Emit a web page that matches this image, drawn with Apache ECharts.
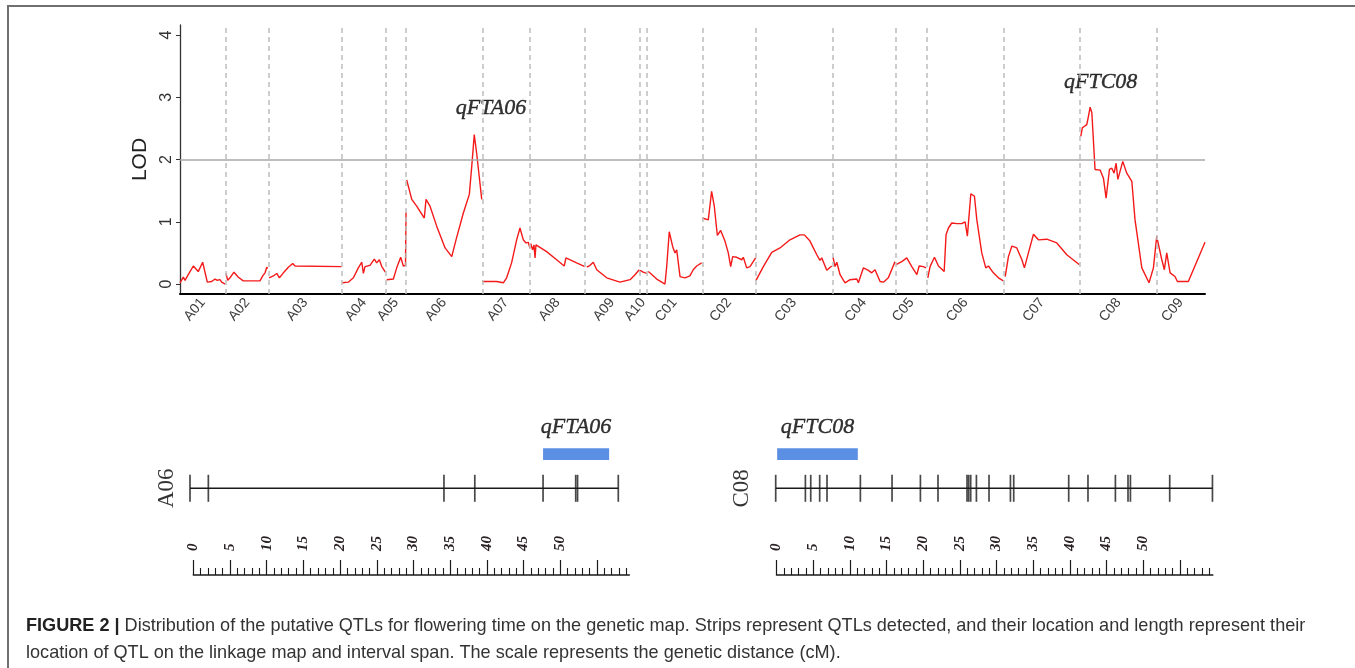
<!DOCTYPE html>
<html><head><meta charset="utf-8">
<script src="https://cdn.jsdelivr.net/npm/echarts@6/dist/echarts.min.js"></script>
<style>html,body{margin:0;padding:0;background:#fff}#c{width:1355px;height:668px}</style>
</head><body><div id="c"></div>
<script>
// ---------- DATA ----------
const chromNames = ['A01','A02','A03','A04','A05','A06','A07','A08','A09','A10','C01','C02','C03','C04','C05','C06','C07','C08','C09'];
const chromLengths = [34.3,32.3,55.0,33.0,15.0,57.2,35.8,41.3,40.7,5.8,41.5,40.1,57.5,47.6,23.5,57.8,57.0,57.5,36.2];
// LOD profiles: [position within chromosome (cM), LOD]
const lodA01 = [[0,0.02],[2.5,0.11],[3.8,0.06],[6.2,0.15],[10,0.29],[13.7,0.2],[17,0.35],[20.5,0.03],[23.8,0.04],[26.3,0.08],[28,0.06],[30,0.07],[31.3,0.03],[33.8,0.0]];
const lodA02 = [[0.2,0.17],[1.5,0.06],[3.2,0.1],[6.2,0.19],[9.5,0.11],[13.2,0.05],[25.7,0.05],[27.8,0.13],[29.5,0.18],[30.8,0.27],[31.5,0.25]];
const lodA03 = [[0.2,0.1],[3.5,0.13],[6,0.17],[8,0.1],[11,0.18],[14.7,0.27],[18,0.33],[19.7,0.29],[54.6,0.28]];
const lodA04 = [[0.2,0.02],[4.7,0.03],[8.5,0.1],[12.2,0.26],[14.8,0.35],[16,0.17],[17.2,0.28],[21,0.3],[24.2,0.4],[26,0.34],[28,0.39],[29.8,0.28],[32.5,0.19]];
const lodA05 = [[0.5,0.07],[5.5,0.08],[8,0.26],[11,0.43],[13,0.29],[14.6,0.3],[15,1.15]];
const lodA06 = [[0.5,1.67],[4.3,1.36],[8,1.25],[13.7,1.06],[15,1.36],[18,1.25],[23,0.93],[29.3,0.58],[34.3,0.44],[37.5,0.71],[43,1.14],[47.5,1.44],[49.3,1.89],[51.2,2.4],[53,2.1],[56.8,1.36]];
const lodA07 = [[0,0.04],[10.8,0.04],[15.8,0.02],[18.3,0.1],[22,0.34],[25.8,0.71],[28.3,0.9],[30.8,0.71],[32.8,0.66],[34.5,0.67],[35.8,0.58]];
const lodA08 = [[0.5,0.65],[2,0.55],[3,0.63],[3.8,0.42],[4.5,0.63],[12.5,0.52],[20,0.39],[25.7,0.29],[27,0.42],[35,0.34],[41.2,0.28]];
const lodA09 = [[1.3,0.27],[3.2,0.29],[6.2,0.35],[8.8,0.23],[16.3,0.1],[26.2,0.03],[33.8,0.07],[37.5,0.15],[40.7,0.23]];
const lodA10 = [[0.5,0.22],[3,0.19],[5.5,0.17]];
const lodC01 = [[1,0.2],[2.2,0.22],[3.8,0.15],[7.3,0.08],[13.5,0.0],[14.8,0.28],[16.7,0.84],[19.3,0.6],[21,0.5],[22.3,0.55],[24.8,0.12],[28.5,0.1],[32.2,0.13],[34.7,0.23],[37.3,0.29],[41,0.34]];
const lodC02 = [[0,1.06],[4.5,1.03],[7,1.49],[9,1.25],[11.3,0.78],[13.8,0.86],[17,0.69],[19.5,0.5],[21.3,0.28],[22.8,0.44],[25.8,0.43],[29.6,0.39],[30.8,0.43],[33.3,0.26],[35.8,0.28],[40,0.42]];
const lodC03 = [[0.2,0.06],[5.7,0.28],[12,0.51],[18.2,0.58],[25.7,0.71],[33.2,0.79],[36.5,0.79],[40.7,0.69],[45.8,0.47],[48.2,0.38],[49.5,0.42],[53.3,0.22],[57,0.29]];
const lodC04 = [[0.5,0.43],[2,0.28],[3.3,0.35],[5.8,0.15],[9.5,0.02],[13.3,0.07],[18.3,0.08],[19.5,0.02],[23.3,0.26],[27,0.22],[29.5,0.18],[32,0.23],[35.8,0.04],[38.3,0.03],[42,0.1],[47,0.36]];
const lodC05 = [[0.2,0.31],[4.5,0.36],[8.2,0.42],[12,0.28],[15.8,0.15],[17.5,0.29],[20.7,0.28],[22.7,0.26]];
const lodC06 = [[0.5,0.1],[2.2,0.28],[5.5,0.43],[8.5,0.29],[12.8,0.2],[14.2,0.79],[16,0.9],[18.5,0.98],[22.3,0.97],[26,0.97],[28.5,1.0],[30.2,0.77],[32.8,1.45],[35.5,1.41],[37.3,1.03],[41,0.5],[44,0.26],[46,0.29],[49.7,0.18],[53.5,0.1],[57.2,0.05]];
const lodC07 = [[0.8,0.12],[3.2,0.44],[5.8,0.61],[9.5,0.58],[13.3,0.39],[15.2,0.26],[18.2,0.5],[22,0.8],[25.7,0.71],[32,0.72],[39.5,0.66],[47,0.47],[56.5,0.31]];
const lodC08 = [[0.5,2.37],[1.7,2.51],[3.2,2.48],[5,2.56],[6.2,2.69],[7.5,2.84],[8.8,2.75],[11.2,1.84],[15,1.83],[17.5,1.7],[19.5,1.38],[22,1.84],[23.8,1.86],[25.5,1.78],[27,1.94],[28.3,1.68],[32,1.97],[35,1.78],[38.8,1.65],[41.2,1.03],[46.3,0.26],[51.7,0.02],[55,0.26],[57.5,0.77]];
const lodC09 = [[0.5,0.71],[3.8,0.39],[5.7,0.23],[7.5,0.5],[10,0.18],[13.7,0.12],[15.5,0.04],[23.7,0.04],[36.2,0.67]];
const lodCurves = [lodA01,lodA02,lodA03,lodA04,lodA05,lodA06,lodA07,lodA08,lodA09,lodA10,lodC01,lodC02,lodC03,lodC04,lodC05,lodC06,lodC07,lodC08,lodC09];
const lodThreshold = 2;
const lodTicks = [0,1,2,3,4];
const qtlNames = ['qFTA06','qFTC08'];
const qtlLabelX = [233.3, 690.8];    // genome position (cM) of annotation text
const qtlLabelLOD = [2.83, 3.24];

// Linkage maps (cM)
const mapA06Markers = [0, 2.5, 34.6, 38.8, 48.1, 52.55, 52.8, 58.35];
const mapA06Length = 58.35;
const mapA06Qtl = [48.1, 57.1];
const mapC08Markers = [0, 4.05, 4.78, 6.0, 7.0, 11.55, 15.87, 19.74, 22.14, 26.1, 26.33, 26.6, 27.38, 29.1, 32.02, 32.47, 39.97, 42.6, 46.34, 48.06, 48.39, 53.75, 59.58];
const mapC08Length = 59.58;
const mapC08Qtl = [0.2, 11.2];
const rulerLabels = [0,5,10,15,20,25,30,35,40,45,50];
const rulerMajorTicks = [0,5,10,15,20,25,30,35,40,45,50,55];
const rulerMinorTicks = [];
for (let i = 1; i <= 59; i++) if (i % 5) rulerMinorTicks.push(i);

// ---------- LAYOUT ----------
const chromStarts = [];
let acc = 0;
chromLengths.forEach(l => { chromStarts.push(acc); acc += l; });
const genomeTotal = acc;
const chromCenters = chromStarts.map((s, i) => s + chromLengths[i] / 2);
const boundaries = chromStarts.slice(1);

const MAP_Y = 2.185, BAR_Y = 3.04, LABEL_Y = 3.72;
const qtlText = { show: true, position: 'inside', formatter: '{b}', fontFamily: 'Liberation Serif', fontStyle: 'italic', fontSize: 22,
  color: '#000', textBorderColor: '#000', textBorderWidth: 0.4 };

const series = [];
lodCurves.forEach((curve, i) => {
  series.push({
    type: 'line', xAxisIndex: 0, yAxisIndex: 0, symbol: 'none', silent: true,
    data: curve.map(p => [chromStarts[i] + p[0], p[1]]),
    lineStyle: { color: '#f41a1a', width: 1.4 },
    z: 3,
    markLine: i === 0 ? {
      silent: true, symbol: ['none', 'none'], label: { show: false },
      data: boundaries.map(b => ({ xAxis: b, lineStyle: { type: [5, 4], color: '#bdbdbd', width: 1.5 } }))
        .concat([{ yAxis: lodThreshold, lineStyle: { type: 'solid', color: '#a8a8a8', width: 1.5 } }])
    } : undefined
  });
});
series.push({
  type: 'scatter', xAxisIndex: 0, yAxisIndex: 0, symbolSize: 1, silent: true,
  itemStyle: { color: 'rgba(0,0,0,0)' },
  data: qtlNames.map((n, i) => ({ name: n, value: [qtlLabelX[i], qtlLabelLOD[i]] })),
  label: qtlText
});

function mapSeries(axisIdx, name, markers, len, qtl, qtlName, nameDist) {
  const xi = axisIdx.x, yi = axisIdx.y;
  return [
    { type: 'line', xAxisIndex: xi, yAxisIndex: yi, symbol: 'none', silent: true,
      data: [[0, MAP_Y], [len, MAP_Y]], lineStyle: { color: '#1a1a1a', width: 1.5 } },
    { type: 'scatter', xAxisIndex: xi, yAxisIndex: yi, symbol: 'rect', symbolSize: [1.7, 27], silent: true,
      itemStyle: { color: '#1a1a1a' }, data: markers.map(m => [m, MAP_Y]) },
    { type: 'line', xAxisIndex: xi, yAxisIndex: yi, symbol: 'none', silent: true,
      data: [[qtl[0], BAR_Y], [qtl[1], BAR_Y]], lineStyle: { color: '#5b8fe3', width: 11.7, cap: 'butt' } },
    { type: 'scatter', xAxisIndex: xi, yAxisIndex: yi, symbolSize: 1, silent: true, itemStyle: { color: 'rgba(0,0,0,0)' },
      data: [{ name: qtlName, value: [(qtl[0] + qtl[1]) / 2, LABEL_Y] }],
      label: qtlText },
    { type: 'scatter', xAxisIndex: xi, yAxisIndex: yi, symbolSize: 1, silent: true, itemStyle: { color: 'rgba(0,0,0,0)' },
      data: [{ name: name, value: [0, MAP_Y] }],
      label: { show: true, position: 'left', distance: nameDist, rotate: 90, align: 'center', verticalAlign: 'middle',
        formatter: '{b}', fontFamily: 'Liberation Serif', fontSize: 23, color: '#000' } }
  ];
}
series.push(...mapSeries({ x: 1, y: 1 }, 'A06', mapA06Markers, mapA06Length, mapA06Qtl, 'qFTA06', 23));
series.push(...mapSeries({ x: 4, y: 3 }, 'C08', mapC08Markers, mapC08Length, mapC08Qtl, 'qFTC08', 33));

function rulerAxes(gi, max) {
  return [
    { gridIndex: gi, type: 'value', position: 'bottom', min: 0, max: max,
      axisLine: { show: true, onZero: false, lineStyle: { color: '#1a1a1a', width: 1.5 } },
      axisTick: { show: true, inside: true, length: 15, customValues: rulerMajorTicks, lineStyle: { color: '#1a1a1a', width: 1.2 } },
      axisLabel: { show: true, inside: true, rotate: 90, margin: 24, customValues: rulerLabels,
        fontFamily: 'Liberation Serif', fontStyle: 'italic', fontWeight: 'bold', fontSize: 15, color: '#2a2226' },
      splitLine: { show: false } },
    { gridIndex: gi, type: 'value', position: 'bottom', min: 0, max: max,
      axisLine: { show: false, onZero: false },
      axisTick: { show: true, inside: true, length: 7, customValues: rulerMinorTicks, lineStyle: { color: '#1a1a1a', width: 1.1 } },
      axisLabel: { show: false }, splitLine: { show: false } }
  ];
}
function hiddenX(gi, max) { return { gridIndex: gi, type: 'value', min: 0, max: max, show: false }; }
function hiddenY(gi) { return { gridIndex: gi, type: 'value', min: 0, max: 4, show: false }; }

const option = {
  animation: false,
  backgroundColor: '#fff',
  title: {
    left: 26, top: 612, padding: 0,
    text: '{b|FIGURE 2 |} Distribution of the putative QTLs for flowering time on the genetic map. Strips represent QTLs detected, and their location and length represent their\nlocation of QTL on the linkage map and interval span. The scale represents the genetic distance (cM).',
    textStyle: { fontFamily: 'Liberation Sans', fontSize: 18.1, fontWeight: 'normal', color: '#333', lineHeight: 27,
      rich: { b: { fontFamily: 'Liberation Sans', fontSize: 18.1, fontWeight: 'bold', color: '#222', lineHeight: 27 } } }
  },
  graphic: [{ type: 'rect', silent: true, shape: { x: 8, y: 6, width: 1400, height: 700 },
    style: { fill: 'none', stroke: '#707070', lineWidth: 2 } }],
  grid: [
    { left: 180, top: 25, width: 1025, height: 269 },
    { left: 190, top: 415.7, width: 436, height: 160 },     // A06 map
    { left: 193.3, top: 415.7, width: 436, height: 159.3 }, // A06 ruler
    { left: 775.7, top: 415.7, width: 436.9, height: 160 },   // C08 map
    { left: 776.5, top: 415.7, width: 436.3, height: 159.3 }  // C08 ruler
  ],
  xAxis: [
    { gridIndex: 0, type: 'value', min: 0, max: genomeTotal,
      axisLine: { show: true, onZero: false, lineStyle: { color: '#000', width: 2 } },
      axisTick: { show: false },
      axisLabel: { show: true, customValues: chromCenters, rotate: 50, margin: 6, fontFamily: 'Liberation Sans', fontSize: 14, color: '#3d3d3d',
        formatter: v => { let b = 0; chromCenters.forEach((c, i) => { if (Math.abs(c - v) < Math.abs(chromCenters[b] - v)) b = i; }); return chromNames[b]; } },
      splitLine: { show: false } },
    hiddenX(1, 59.4),
    ...rulerAxes(2, 59.4),
    hiddenX(3, 59.6),
    ...rulerAxes(4, 59.5)
  ],
  yAxis: [
    { gridIndex: 0, type: 'value', min: -0.16, max: 4.16,
      name: 'LOD', nameLocation: 'middle', nameRotate: 90, nameGap: 18,
      nameTextStyle: { fontFamily: 'Liberation Sans', fontSize: 21, color: '#222' },
      axisLine: { show: true, onZero: false, lineStyle: { color: '#333', width: 1.3 } },
      axisTick: { show: true, length: 4, customValues: lodTicks, lineStyle: { color: '#333' } },
      axisLabel: { show: true, customValues: lodTicks, rotate: 90, margin: 5, fontFamily: 'Liberation Sans', fontSize: 16, color: '#333' },
      splitLine: { show: false } },
    hiddenY(1), hiddenY(2), hiddenY(3), hiddenY(4)
  ],
  series: series
};
const chart = echarts.init(document.getElementById('c'), null, { renderer: 'canvas' });
chart.setOption(option);
</script></body></html>
